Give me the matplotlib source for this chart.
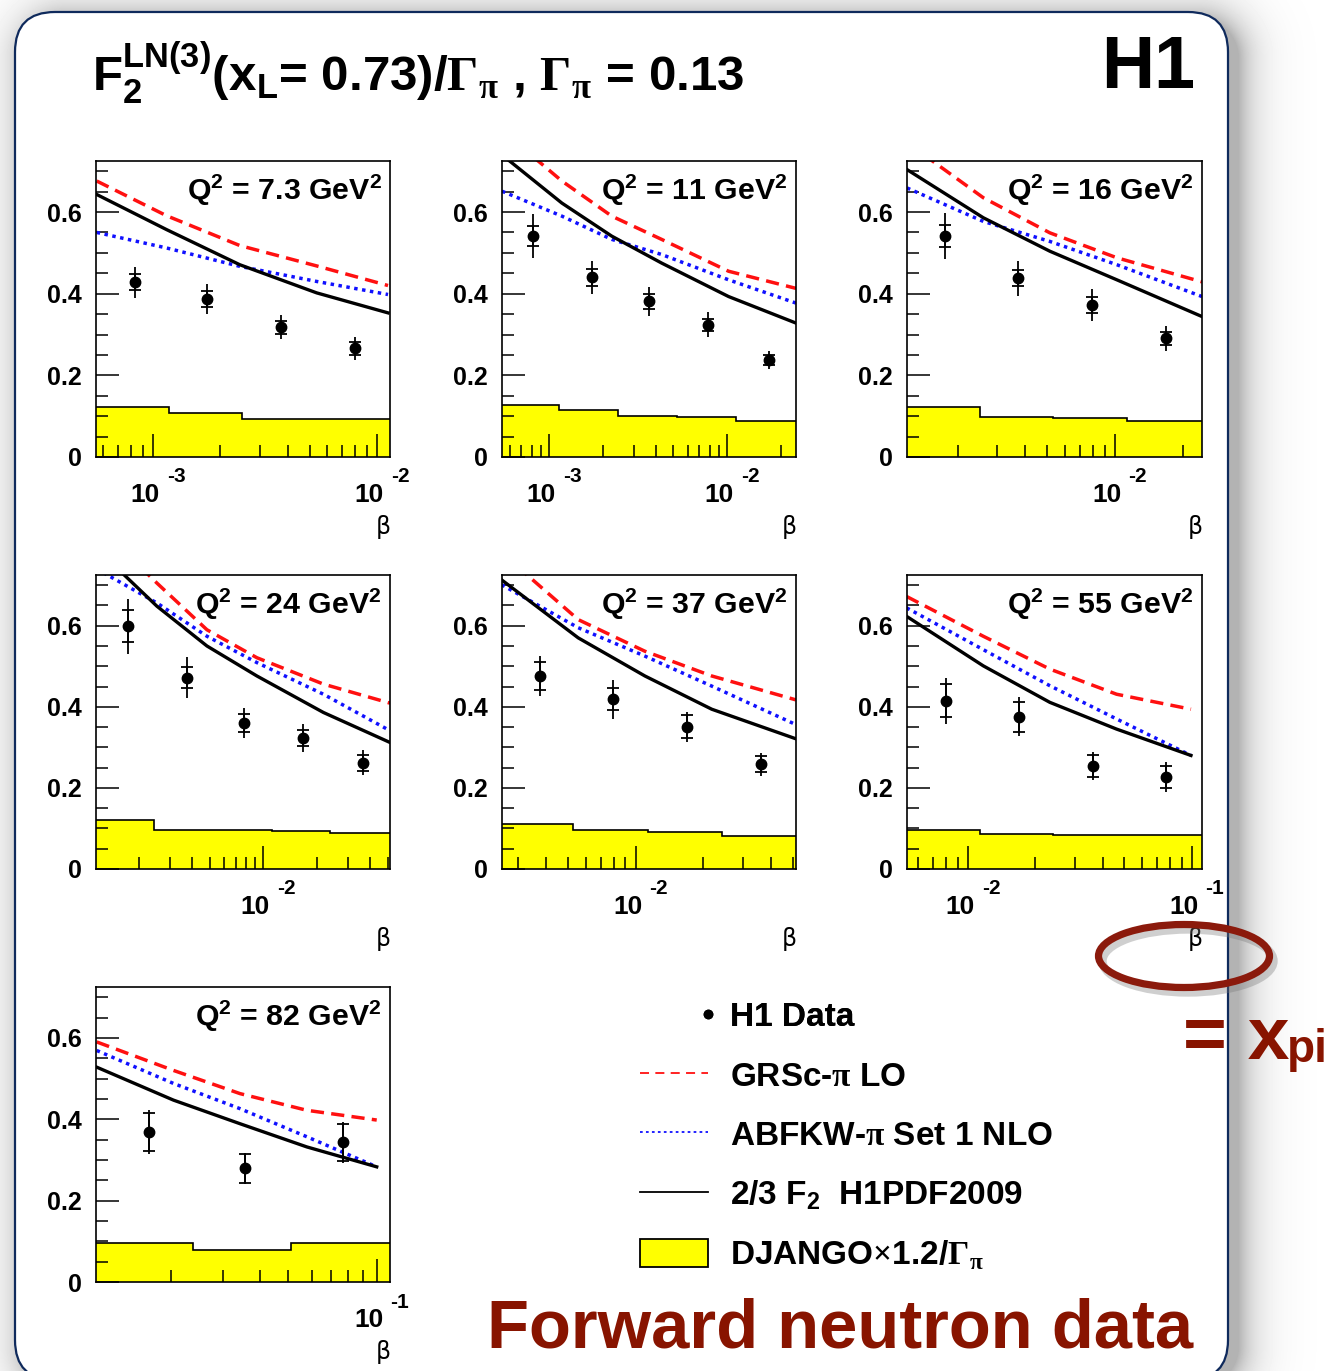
import numpy as np
import matplotlib
matplotlib.use("Agg")
import matplotlib.pyplot as plt
import matplotlib.transforms as mtrans
from matplotlib.patches import FancyBboxPatch, Ellipse, Patch
from matplotlib.lines import Line2D
from matplotlib.ticker import LogLocator, NullFormatter, MultipleLocator, FuncFormatter

plt.rcParams['font.family'] = ['Liberation Sans', 'DejaVu Sans']
plt.rcParams['font.weight'] = 'bold'
plt.rcParams['mathtext.fontset'] = 'custom'
plt.rcParams['mathtext.rm'] = 'Liberation Sans:bold'
plt.rcParams['mathtext.it'] = 'Liberation Sans:bold'
plt.rcParams['mathtext.bf'] = 'Liberation Sans:bold'
plt.rcParams['mathtext.sf'] = 'Liberation Serif'

# ---- data ----
q2_values = ["7.3", "11", "16", "24", "37", "55", "82"]

beta_pts = [
    [8.3e-4, 1.75e-3, 3.73e-3, 7.98e-3],
    [8.13e-4, 1.74e-3, 3.66e-3, 7.80e-3, 1.71e-2],
    [1.75e-3, 3.72e-3, 7.93e-3, 1.68e-2],
    [1.75e-3, 3.72e-3, 7.82e-3, 1.68e-2, 3.63e-2],
    [3.76e-3, 7.95e-3, 1.69e-2, 3.60e-2],
    [7.95e-3, 1.69e-2, 3.61e-2, 7.64e-2],
    [1.69e-2, 3.57e-2, 7.69e-2],
]
f2_pts = [
    [0.428, 0.387, 0.318, 0.266],
    [0.541, 0.440, 0.381, 0.324, 0.238],
    [0.542, 0.438, 0.373, 0.291],
    [0.599, 0.472, 0.360, 0.323, 0.262],
    [0.476, 0.419, 0.351, 0.258],
    [0.415, 0.375, 0.254, 0.227],
    [0.369, 0.279, 0.343],
]
err_tot = [
    [0.038, 0.036, 0.029, 0.028],
    [0.054, 0.041, 0.036, 0.030, 0.022],
    [0.056, 0.043, 0.039, 0.031],
    [0.068, 0.050, 0.037, 0.034, 0.031],
    [0.050, 0.048, 0.037, 0.029],
    [0.057, 0.048, 0.035, 0.036],
    [0.054, 0.039, 0.051],
]
err_stat = [
    [0.020, 0.020, 0.016, 0.015],
    [0.025, 0.020, 0.018, 0.015, 0.012],
    [0.027, 0.020, 0.020, 0.016],
    [0.040, 0.025, 0.022, 0.019, 0.020],
    [0.034, 0.027, 0.029, 0.020],
    [0.040, 0.037, 0.028, 0.027],
    [0.047, 0.036, 0.045],
]

beta_curve = [
    [5.61e-4, 1.15e-3, 2.44e-3, 5.38e-3, 1.12e-2],
    [5.44e-4, 1.18e-3, 2.25e-3, 4.29e-3, 1.02e-2, 2.44e-2],
    [1.19e-3, 2.60e-3, 5.14e-3, 1.02e-2, 2.44e-2],
    [1.16e-3, 2.53e-3, 4.83e-3, 9.22e-3, 2.18e-2, 5.16e-2],
    [2.54e-3, 5.56e-3, 1.10e-2, 2.18e-2, 5.16e-2],
    [5.32e-3, 1.17e-2, 2.32e-2, 4.61e-2, 9.91e-2],
    [1.12e-2, 2.04e-2, 3.43e-2, 5.78e-2, 9.98e-2],
]
grsc_lo = [
    [0.676, 0.591, 0.518, 0.468, 0.420],
    [0.800, 0.676, 0.590, 0.533, 0.455, 0.413],
    [0.770, 0.635, 0.549, 0.488, 0.429],
    [0.850, 0.705, 0.590, 0.521, 0.456, 0.409],
    [0.780, 0.615, 0.537, 0.476, 0.417],
    [0.672, 0.574, 0.493, 0.431, 0.394],
    [0.590, 0.520, 0.463, 0.422, 0.398],
]
abfkw_nlo = [
    [0.550, 0.512, 0.467, 0.430, 0.398],
    [0.651, 0.590, 0.533, 0.496, 0.434, 0.377],
    [0.659, 0.577, 0.528, 0.471, 0.393],
    [0.740, 0.656, 0.574, 0.509, 0.431, 0.341],
    [0.701, 0.595, 0.525, 0.451, 0.356],
    [0.644, 0.541, 0.452, 0.370, 0.280],
    [0.569, 0.488, 0.426, 0.357, 0.283],
]
h1pdf2009 = [
    [0.643, 0.557, 0.471, 0.402, 0.353],
    [0.740, 0.622, 0.541, 0.475, 0.393, 0.328],
    [0.704, 0.586, 0.504, 0.434, 0.344],
    [0.790, 0.648, 0.550, 0.476, 0.386, 0.312],
    [0.713, 0.570, 0.476, 0.394, 0.321],
    [0.623, 0.501, 0.411, 0.345, 0.280],
    [0.528, 0.447, 0.389, 0.332, 0.283],
]

django_edges = [
    [5.57e-4, 1.18e-3, 2.49e-3, 5.35e-3, 1.143e-2],
    [5.44e-4, 1.14e-3, 2.45e-3, 5.21e-3, 1.12e-2, 2.44e-2],
    [1.19e-3, 2.51e-3, 5.28e-3, 1.13e-2, 2.44e-2],
    [1.15e-3, 2.42e-3, 5.17e-3, 1.12e-2, 2.38e-2, 5.16e-2],
    [2.55e-3, 5.28e-3, 1.14e-2, 2.41e-2, 5.16e-2],
    [5.34e-3, 1.13e-2, 2.40e-2, 5.13e-2, 0.111],
    [1.114e-2, 2.37e-2, 5.09e-2, 0.1107],
]
django_vals = [
    [0.123, 0.107, 0.0925, 0.0925],
    [0.128, 0.115, 0.101, 0.097, 0.087],
    [0.123, 0.099, 0.096, 0.087],
    [0.120, 0.097, 0.097, 0.093, 0.089],
    [0.112, 0.096, 0.091, 0.082],
    [0.097, 0.087, 0.083, 0.083],
    [0.095, 0.0785, 0.095],
]

x_limits = [
    (5.57e-4, 1.143e-2), (5.44e-4, 2.44e-2), (1.19e-3, 2.44e-2),
    (1.15e-3, 5.16e-2), (2.55e-3, 5.16e-2), (5.34e-3, 0.111),
    (1.114e-2, 0.1107),
]

# ---- figure in pixel units ----
W, H = 1332, 1371
fig = plt.figure(figsize=(W / 100, H / 100), dpi=100)
fig.patch.set_facecolor('white')


def px_rect(x0, y0, x1, y1):
    return [x0 / W, 1 - y1 / H, (x1 - x0) / W, (y1 - y0) / H]


def px_off(dx, dy):
    return mtrans.ScaledTranslation(dx / 100, -dy / 100, fig.dpi_scale_trans)


# background: shadow + rounded frame
bg = fig.add_axes([0, 0, 1, 1], zorder=-10)
yy, xx = np.mgrid[0:H, 0:W]
bx0, by0, bx1, by1, rad = 15, 12, 1228, 1380, 40
cx = np.clip(xx, bx0 + rad + 10, bx1 - rad + 10)
cy = np.clip(yy, by0 + rad + 6, by1 - rad + 6)
dist = np.clip(np.hypot(xx - cx, yy - cy) - rad, 0, None)
shade = 1 - 0.30 * np.exp(-dist / 18.0)
bg.imshow(shade, cmap='gray', vmin=0, vmax=1, extent=(0, W, H, 0), aspect='auto')
bg.add_patch(FancyBboxPatch((bx0, by0), bx1 - bx0, by1 - by0,
                            boxstyle="round,pad=0,rounding_size=40",
                            facecolor='white', edgecolor='#0f2a5c', lw=1.6))
bg.set_xlim(0, W)
bg.set_ylim(H, 0)
bg.axis('off')

col_x = [(96, 390), (502, 796), (907, 1202)]
row_y = [(161, 457), (575, 869), (987, 1282)]

for i in range(7):
    r, c = divmod(i, 3)
    ax = fig.add_axes(px_rect(col_x[c][0], row_y[r][0], col_x[c][1], row_y[r][1]))
    ax.set_xscale('log')
    ax.set_xlim(*x_limits[i])
    ax.set_ylim(0, 0.725)

    ax.stairs(django_vals[i], django_edges[i], fill=True, color='#ffff00', zorder=1)
    ax.stairs(django_vals[i], django_edges[i], baseline=None, color='black', lw=1.2, zorder=1.1)

    ax.plot(beta_curve[i], grsc_lo[i], color='#ff1010', lw=2.5, dashes=(3.8, 2.1))
    ax.plot(beta_curve[i], abfkw_nlo[i], color='#1010ff', lw=2.5, dashes=(1, 1.3))
    ax.plot(beta_curve[i], h1pdf2009[i], color='black', lw=2.4)

    ax.errorbar(beta_pts[i], f2_pts[i], yerr=err_tot[i], fmt='o', color='black',
                ms=7.5, elinewidth=1.3, capsize=0, zorder=5)
    ax.errorbar(beta_pts[i], f2_pts[i], yerr=err_stat[i], fmt='none', ecolor='black',
                elinewidth=1.3, capsize=4, capthick=1.3, zorder=5)

    ax.yaxis.set_major_locator(MultipleLocator(0.2))
    ax.yaxis.set_minor_locator(MultipleLocator(0.05))
    ax.yaxis.set_major_formatter(FuncFormatter(lambda v, p: '0' if abs(v) < 1e-9 else f'{v:.1f}'))
    ax.xaxis.set_major_locator(LogLocator(base=10, numticks=10))
    ax.xaxis.set_minor_locator(LogLocator(base=10, subs=np.arange(2, 10), numticks=40))
    ax.xaxis.set_major_formatter(NullFormatter())
    ax.xaxis.set_minor_formatter(NullFormatter())
    ax.tick_params(which='both', direction='in', top=False, right=False, width=1.1)
    ax.tick_params(which='major', length=16.5)
    ax.tick_params(which='minor', length=8.5)
    ax.tick_params(axis='y', labelsize=18, pad=10)
    for s in ax.spines.values():
        s.set_linewidth(1.2)

    # decade labels, ROOT style
    lo, hi = x_limits[i]
    trans = mtrans.blended_transform_factory(ax.transData, ax.transAxes)
    for e in range(int(np.floor(np.log10(lo))), int(np.ceil(np.log10(hi))) + 1):
        v = 10.0 ** e
        if lo <= v <= hi:
            ax.text(v, 0, "10", transform=trans + px_off(-8, 38), ha='center', va='center',
                    fontsize=19)
            ax.text(v, 0, f"-{-e}", transform=trans + px_off(23, 20), ha='center', va='center',
                    fontsize=15)
    ax.text(1, 0, "\u03b2", transform=ax.transAxes + px_off(-7, 70), ha='center', va='center',
            fontsize=17, fontweight='normal', family='DejaVu Sans')
    ax.text(1, 1, rf"Q$^2$ = {q2_values[i]} GeV$^2$", transform=ax.transAxes + px_off(-8, 39),
            ha='right', va='baseline', fontsize=21.8)

# legend
leg_a = fig.legend([Line2D([], [], ls='none', marker='o', color='black', ms=6)], ["H1 Data"],
                   loc='center left', bbox_to_anchor=(698 / W, 1 - 1017 / H),
                   frameon=False, fontsize=24, handlelength=0.6, handletextpad=0.36,
                   borderpad=0, borderaxespad=0)
handles = [
    Line2D([], [], color='#ff1010', lw=1.3, dashes=(5, 3.5)),
    Line2D([], [], color='#1010ff', lw=1.3, dashes=(1.5, 1.8)),
    Line2D([], [], color='black', lw=1.3),
    Patch(facecolor='#ffff00', edgecolor='black', lw=1.3),
]
labels = [r"GRSc-$\mathsf{\pi}$ LO", r"ABFKW-$\mathsf{\pi}$ Set 1 NLO",
          r"2/3 F$_2$  H1PDF2009", r"DJANGO$\mathsf{\times}$1.2/$\mathsf{\Gamma}_{\mathsf{\pi}}$"]
leg_b = fig.legend(handles, labels, loc='center left', bbox_to_anchor=(640 / W, 1 - 1166 / H),
                   frameon=False, fontsize=24, handlelength=2.04, handleheight=0.9,
                   handletextpad=0.66, labelspacing=0.8, borderpad=0, borderaxespad=0)
fig.add_artist(leg_a)

# overlay texts and annotation
ov = fig.add_axes([0, 0, 1, 1], zorder=10)
ov.set_xlim(0, W)
ov.set_ylim(H, 0)
ov.axis('off')
ov.patch.set_alpha(0)

ov.text(92, 92, r"F$_2^{LN(3)}$(x$_L$= 0.73)/$\mathsf{\Gamma}_{\mathsf{\pi}}$ , "
        r"$\mathsf{\Gamma}_{\mathsf{\pi}}$ = 0.13", fontsize=35.5, ha='left', va='baseline')
ov.text(1195, 88, "H1", fontsize=53, ha='right', va='baseline')

dark_red = '#881400'
ov.add_patch(Ellipse((1188, 961), 171, 63, fill=False, lw=6, edgecolor='#777777', alpha=0.35))
ov.add_patch(Ellipse((1184, 956), 171, 63, fill=False, lw=5.2, edgecolor='#8b1a0c'))
ov.text(1183, 1059, "= x", fontsize=54, color=dark_red, ha='left', va='baseline')
ov.text(1287, 1062, "pi", fontsize=33, color=dark_red, ha='left', va='baseline')
ov.text(487, 1347, "Forward neutron data", fontsize=49.5, color=dark_red, ha='left', va='baseline')

fig.savefig("out.png", dpi=100)
